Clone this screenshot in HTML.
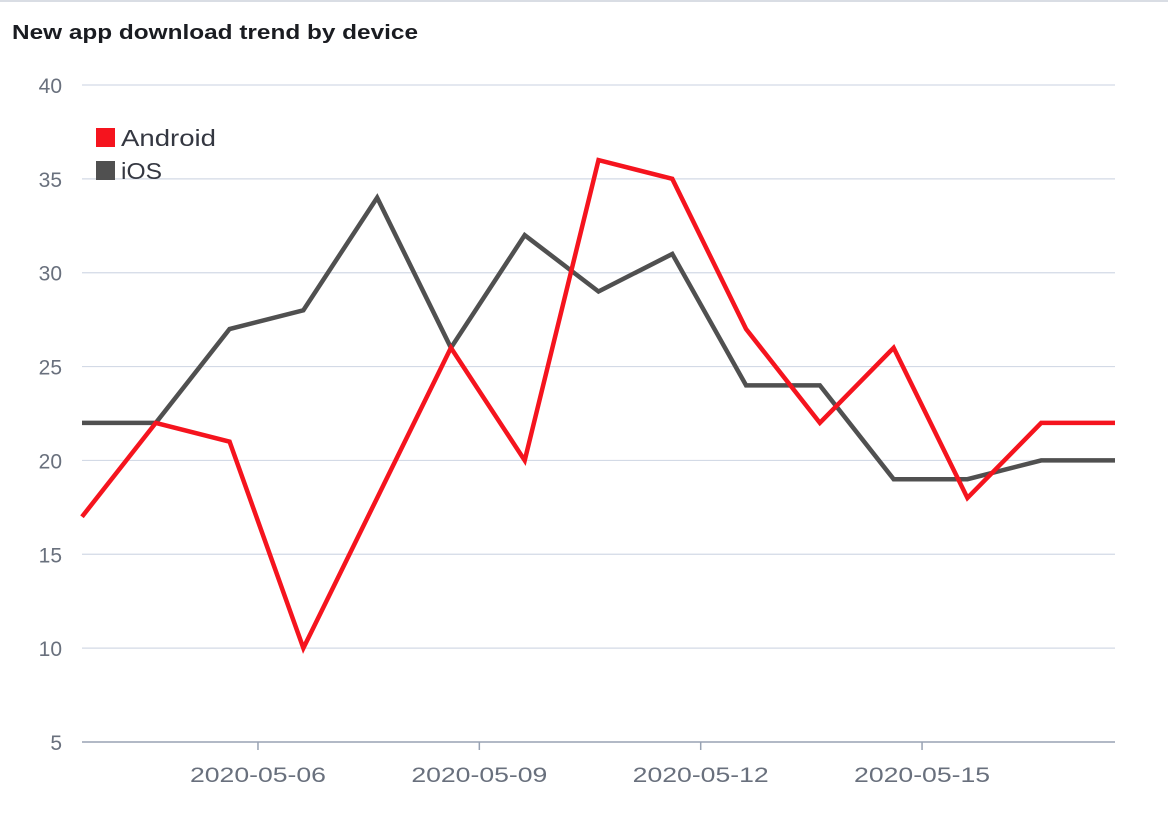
<!DOCTYPE html>
<html><head><meta charset="utf-8"><style>
body{margin:0;background:#fff;width:1168px;height:812px;overflow:hidden;font-family:"Liberation Sans",sans-serif}
</style></head><body>
<svg width="1168" height="812" xmlns="http://www.w3.org/2000/svg">
<line x1="0" y1="1" x2="1168" y2="1" stroke="#d9dde4" stroke-width="2"/>
<text x="12" y="39" font-size="20" font-weight="bold" fill="#1a1c21" textLength="406" lengthAdjust="spacingAndGlyphs">New app download trend by device</text>
<g id="grid"></g><g id="yticks"></g><g id="xticks"></g><g id="lines"></g>
<g>
<rect x="96" y="128" width="19" height="19" fill="#f5141e"/>
<text x="121" y="146" font-size="23" fill="#343741" textLength="95" lengthAdjust="spacingAndGlyphs">Android</text>
<rect x="96" y="161" width="19" height="19" fill="#505050"/>
<text x="121" y="179" font-size="23" fill="#343741" textLength="41" lengthAdjust="spacingAndGlyphs">iOS</text>
</g>
</svg>
<script>
const categories=[0,1,2,3,4,5,6,7,8,9,10,11,12,13,14];
const android=[17,22,21,10,18,26,20,36,35,27,22,26,18,22,22];
const ios=[22,22,27,28,34,26,32,29,31,24,24,19,19,20,20];
const yTicks=[5,10,15,20,25,30,35,40];
const xTickPos=[2.385,5.385,8.385,11.385];
const xTickLabels=["2020-05-06","2020-05-09","2020-05-12","2020-05-15"];
const NS="http://www.w3.org/2000/svg";
const x=i=>82+i*(1115-82)/14;
const y=v=>742-(v-5)*(742-85)/35;
function mk(t,a,p){const e=document.createElementNS(NS,t);for(const k in a)e.setAttribute(k,a[k]);p.appendChild(e);return e;}
const grid=document.getElementById('grid'),yt=document.getElementById('yticks'),xt=document.getElementById('xticks'),ln=document.getElementById('lines');
yTicks.forEach(v=>{
 const l=mk('line',{x1:82,x2:1115,y1:y(v),y2:y(v),stroke:v===5?'#98a2b3':'#d3dae6','stroke-width':v===5?1.5:1.2},grid);
 
 
 const t=mk('text',{x:62,y:y(v)+8,'font-size':21,fill:'#69707d','text-anchor':'end'},yt);t.textContent=v;
 
 
});
xTickPos.forEach((p,i)=>{
 const l=mk('line',{x1:x(p),x2:x(p),y1:742,y2:750,stroke:'#98a2b3','stroke-width':1.5},xt);
 
 
 const t=mk('text',{x:x(p),y:782,'font-size':21,fill:'#69707d','text-anchor':'middle',textLength:136,lengthAdjust:'spacingAndGlyphs'},xt);t.textContent=xTickLabels[i];
 
 
});
[[ios,'#505050','ios-line'],[android,'#f5141e','android-line']].forEach(([d,c,n])=>{
 const p=mk('polyline',{points:d.map((v,i)=>x(categories[i])+','+y(v)).join(' '),fill:'none',stroke:c,'stroke-width':4.5,'stroke-linejoin':'miter'},ln);
 
 
});
</script>
</body></html>
